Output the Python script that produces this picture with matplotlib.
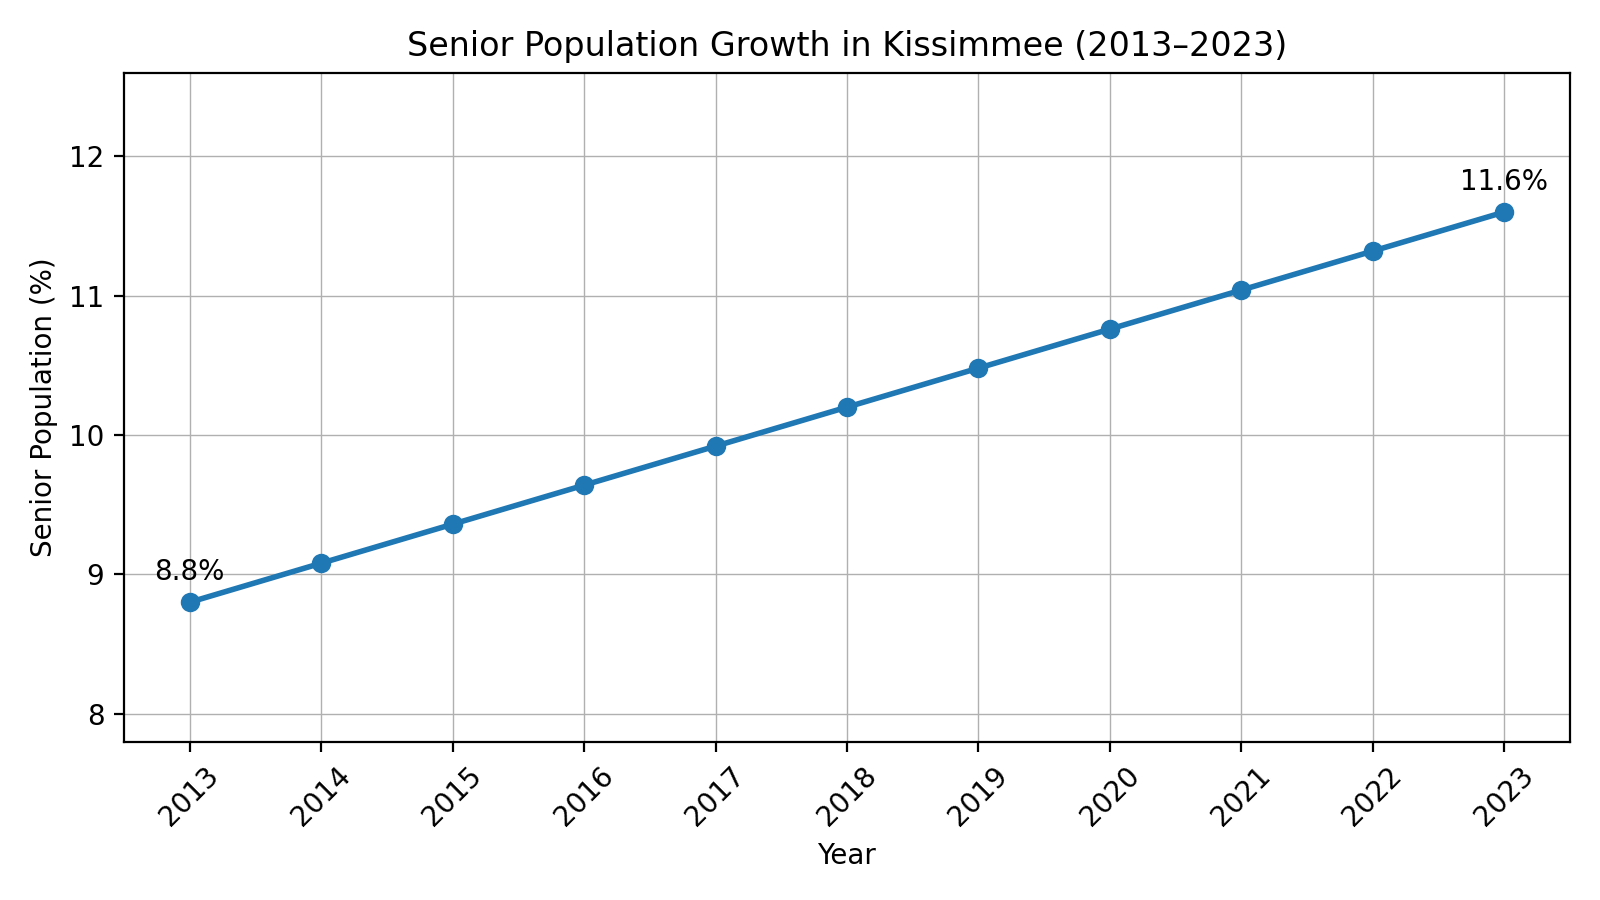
import matplotlib.pyplot as plt

years = [2013, 2014, 2015, 2016, 2017, 2018, 2019, 2020, 2021, 2022, 2023]
senior_pct = [8.8, 9.08, 9.36, 9.64, 9.92, 10.2, 10.48, 10.76, 11.04, 11.32, 11.6]

fig, ax = plt.subplots(figsize=(8, 4.5), dpi=200)
ax.plot(years, senior_pct, marker='o', linewidth=2, markersize=6, color='#1f77b4')

# label first and last points
for i in [0, len(years) - 1]:
    ax.annotate(f"{senior_pct[i]:.1f}%", (years[i], senior_pct[i]),
                textcoords='offset points', xytext=(0, 8), ha='center')

ax.set_title('Senior Population Growth in Kissimmee (2013\u20132023)')
ax.set_xlabel('Year')
ax.set_ylabel('Senior Population (%)')
ax.set_xticks(years)
ax.set_xticklabels([str(y) for y in years], rotation=45)
ax.set_ylim(7.8, 12.6)
ax.set_yticks([8, 9, 10, 11, 12])
ax.grid(True, linewidth=0.5)

plt.tight_layout()
plt.savefig('out.png')
